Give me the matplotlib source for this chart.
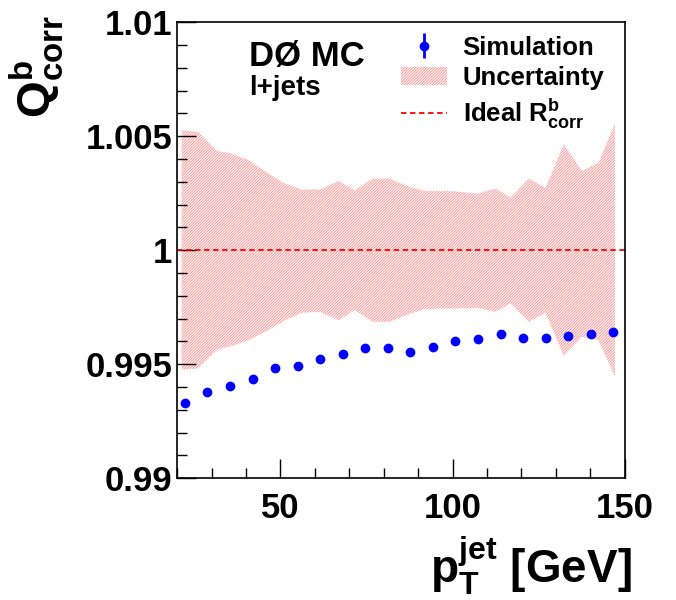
import numpy as np
import matplotlib.pyplot as plt
from matplotlib.patches import Patch
from matplotlib.lines import Line2D
from matplotlib.ticker import MultipleLocator

plt.rcParams['font.family'] = ['Liberation Sans', 'DejaVu Sans']
plt.rcParams['font.weight'] = 'bold'
plt.rcParams['mathtext.fontset'] = 'custom'
plt.rcParams['mathtext.rm'] = 'Liberation Sans:bold'
plt.rcParams['mathtext.it'] = 'Liberation Sans:bold'
plt.rcParams['mathtext.bf'] = 'Liberation Sans:bold'

# simulation points
pt = 22.25 + 6.55 * np.arange(20)
q = [0.99330, 0.99376, 0.99405, 0.99436, 0.99482, 0.99493, 0.99525, 0.99545, 0.99572, 0.99572,
     0.99554, 0.99577, 0.99602, 0.99610, 0.99632, 0.99613, 0.99614, 0.99623, 0.99634, 0.99643]
q_err = [0.00015, 0.00012, 0.00010, 0.00006, 0.00006, 0.00006, 0.00006, 0.00006, 0.00006, 0.00006,
         0.00006, 0.00006, 0.00006, 0.00006, 0.00006, 0.00006, 0.00010, 0.00012, 0.00013, 0.00014]

# uncertainty band around 1
band_x = [21.3, 26.1, 31.6, 35.9, 40.8, 46.5, 51.4, 56.2, 61.5, 67.0, 71.6, 76.9, 81.7,
          87.0, 91.8, 100.5, 107.2, 112.5, 116.9, 122.2, 127.0, 132.3, 137.6, 142.4, 147.2]
band_up = [0.005263, 0.00519, 0.004357, 0.00424, 0.003947, 0.003363, 0.002924, 0.002661, 0.002661,
           0.003041, 0.002632, 0.003143, 0.003143, 0.002807, 0.002602, 0.002588, 0.002485, 0.002705,
           0.00231, 0.003143, 0.002734, 0.004649, 0.00348, 0.00383, 0.005556]
band_dn = [0.005234, 0.00519, 0.004357, 0.00421, 0.003947, 0.003509, 0.00307, 0.002749, 0.002705,
           0.00307, 0.002632, 0.003143, 0.003143, 0.002822, 0.002588, 0.002558, 0.002529, 0.002705,
           0.002339, 0.003143, 0.002749, 0.004635, 0.003801, 0.003947, 0.005556]

fig = plt.figure(figsize=(6.76, 6.0), dpi=100)
ax = fig.add_axes([0.262, 0.203, 0.662, 0.760])

bx = np.array(band_x)
plt.rcParams['hatch.linewidth'] = 0.6
ax.fill_between(bx, 1 - np.array(band_dn), 1 + np.array(band_up), facecolor='none',
                edgecolor='#ff8888', hatch='////////////', linewidth=0)
ax.axhline(1.0, color='red', linestyle=(0, (3, 2)), linewidth=1.3)
sim = ax.errorbar(pt, q, yerr=q_err, fmt='o', color='blue', markersize=6, elinewidth=2, capsize=0)

ax.set_xlim(20, 150)
ax.set_ylim(0.99, 1.01)
ax.xaxis.set_major_locator(MultipleLocator(50))
ax.xaxis.set_minor_locator(MultipleLocator(10))
ax.yaxis.set_minor_locator(MultipleLocator(0.001))
ax.set_yticks([0.99, 0.995, 1.0, 1.005, 1.01])
ax.set_yticklabels(['0.99', '0.995', '1', '1.005', '1.01'])
ax.tick_params(which='both', direction='in', labelsize=25, right=False, top=False)
ax.tick_params(which='major', length=14, width=1)
ax.tick_params(which='minor', length=7, width=1)
ax.tick_params(axis='x', pad=10)
for s in ax.spines.values():
    s.set_linewidth(1.2)

fig.text(0.055, 0.975, r'Q$^{b}_{corr}$', rotation=90, fontsize=34, ha='center', va='top')
fig.text(0.935, 0.005, r'p$_{T}^{jet}$ [GeV]', fontsize=33, ha='right', va='bottom')

ax.text(0.16, 0.96, 'DØ MC', transform=ax.transAxes, fontsize=25, va='top')
ax.text(0.16, 0.885, 'l+jets', transform=ax.transAxes, fontsize=20, va='top')

handles = [sim,
           Patch(facecolor='none', edgecolor='#ff8888', hatch='////////////', linewidth=0),
           Line2D([], [], color='red', linestyle=(0, (3, 2)), linewidth=1.3)]
ax.legend(handles, ['Simulation', 'Uncertainty', r'Ideal R$^{b}_{corr}$'], loc='upper left',
          bbox_to_anchor=(0.46, 1.01), frameon=False, fontsize=18.5, handlelength=1.8,
          labelspacing=0.25, borderaxespad=0.3, handletextpad=0.6)

fig.savefig('out.png', dpi=100)
